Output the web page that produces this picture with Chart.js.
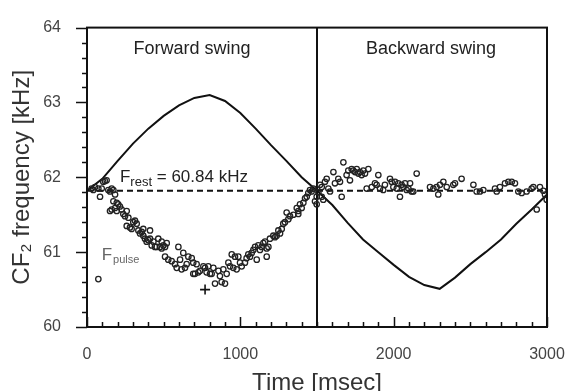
<!DOCTYPE html>
<html>
<head>
<meta charset="utf-8">
<script src="https://cdn.jsdelivr.net/npm/chart.js@4.4.1/dist/chart.umd.min.js"></script>
<style>
  html, body { margin: 0; padding: 0; background: #fff; }
</style>
</head>
<body>
<canvas id="chart" width="568" height="391"></canvas>
<script>
// --- Data ---
const xTickLabels = [0, 1000, 2000, 3000];
const yTickLabels = [60, 61, 62, 63, 64];

// solid CF2 curve (kHz vs msec)
const curveTime = [0, 100, 200, 300, 400, 500, 600, 700, 800, 900, 1000, 1100, 1200, 1300, 1400, 1500,
  1600, 1700, 1800, 1900, 2000, 2100, 2200, 2300, 2400, 2500, 2600, 2700, 2800, 2900, 3000];
const curveFreq = [61.82, 61.98, 62.22, 62.45, 62.65, 62.82, 62.96, 63.06, 63.10, 63.02, 62.86, 62.65, 62.43, 62.22, 62.00, 61.82,
  61.63, 61.39, 61.17, 61.00, 60.83, 60.67, 60.56, 60.51, 60.66, 60.84, 61.00, 61.17, 61.38, 61.57, 61.77];

// F_rest reference line and swing boundary
const restTime = [0, 3000];
const restFreq = [61.82, 61.82];
const boundaryTime = [1500, 1500];
const boundaryFreq = [60, 64];

// F_pulse points, forward swing
const fwdTime = [30, 41, 52, 74, 85, 96, 106, 117, 128, 139,
  150, 161, 172, 183, 172, 194, 204, 215, 183, 161,
  150, 194, 226, 237, 248, 259, 270, 259, 280, 291,
  302, 313, 324, 335, 346, 357, 367, 378, 389, 400,
  411, 411, 367, 422, 433, 443, 454, 465, 476, 487,
  498, 509, 520, 487, 509, 530, 552, 574, 585, 596,
  607, 617, 628, 639, 650, 661, 683, 693, 693, 704,
  715, 726, 737, 759, 770, 780, 791, 802, 813, 824,
  835, 857, 867, 878, 889, 900, 911, 922, 933, 944,
  954, 965, 976, 987, 998, 1009, 1030, 1041, 1052, 1063,
  1074, 1085, 1096, 1107, 1117, 1128, 1139, 1150, 1161, 1172,
  1172, 1183, 1193, 1215, 1226, 1237, 1248, 1259, 1270, 1280,
  1291, 1302, 1313, 1324, 1346, 1368, 1378, 1378, 1389, 1400,
  1411, 1422, 1433, 1443, 1454, 1465, 1476, 1487, 1498, 1498,
  74];
const fwdFreq = [61.85, 61.83, 61.87, 61.85, 61.74, 61.85, 61.94, 61.95, 61.96, 61.83,
  61.81, 61.85, 61.83, 61.77, 61.68, 61.66, 61.64, 61.61, 61.59, 61.57,
  61.55, 61.55, 61.57, 61.51, 61.48, 61.55, 61.46, 61.35, 61.33, 61.31,
  61.40, 61.42, 61.38, 61.29, 61.25, 61.27, 61.22, 61.18, 61.14, 61.16,
  61.18, 61.29, 61.31, 61.09, 61.14, 61.07, 61.07, 61.18, 61.07, 61.14,
  61.09, 61.07, 61.12, 61.05, 60.94, 60.90, 60.88, 60.84, 60.79, 61.07,
  60.90, 60.77, 60.99, 60.79, 60.84, 60.94, 60.92, 60.86, 60.71, 60.71,
  60.84, 60.73, 60.75, 60.81, 60.79, 60.73, 60.81, 60.71, 60.71, 60.79,
  60.58, 60.75, 60.68, 60.60, 60.77, 60.58, 60.71, 60.86, 60.81, 60.97,
  60.79, 60.94, 60.77, 60.94, 60.86, 60.81, 60.86, 60.92, 60.97, 60.94,
  60.99, 61.03, 61.07, 60.90, 61.09, 61.03, 61.07, 61.12, 61.14, 61.05,
  60.94, 61.07, 61.18, 61.22, 61.20, 61.22, 61.29, 61.25, 61.31, 61.38,
  61.40, 61.53, 61.44, 61.48, 61.50, 61.59, 61.55, 61.51, 61.64, 61.59,
  61.66, 61.72, 61.74, 61.79, 61.83, 61.81, 61.85, 61.68, 61.64, 61.74,
  60.64];

// F_pulse points, backward swing
const bwdTime = [1509, 1520, 1531, 1531, 1541, 1552, 1563, 1574, 1585, 1607,
  1617, 1639, 1650, 1661, 1672, 1693, 1704, 1715, 1726, 1737,
  1748, 1759, 1770, 1780, 1791, 1802, 1813, 1824, 1835, 1857,
  1878, 1889, 1900, 1911, 1932, 1943, 1976, 1987, 1998, 2009,
  2020, 2030, 2041, 2052, 2063, 2074, 2085, 2096, 2107, 2117,
  2128, 2150, 2237, 2259, 2280, 2291, 2302, 2324, 2346, 2389,
  2400, 2443, 2520, 2541, 2563, 2585, 2661, 2672, 2693, 2726,
  2748, 2770, 2791, 2813, 2835, 2867, 2900, 2911, 2933, 2954,
  2976, 2987, 2998];
const bwdFreq = [61.80, 61.90, 61.87, 61.74, 61.70, 61.94, 61.98, 61.85, 61.81, 62.07,
  61.92, 61.98, 61.94, 61.74, 62.20, 62.03, 62.09, 61.96, 62.11, 62.09,
  62.07, 62.11, 62.05, 62.07, 62.03, 62.09, 62.05, 61.85, 62.11, 61.87,
  61.92, 61.90, 62.03, 61.85, 61.83, 61.90, 61.98, 61.94, 61.87, 61.94,
  61.85, 61.92, 61.74, 61.90, 61.87, 61.92, 61.83, 61.85, 61.92, 61.81,
  61.81, 62.05, 61.87, 61.85, 61.87, 61.77, 61.90, 61.94, 61.87, 61.90,
  61.92, 61.98, 61.90, 61.81, 61.81, 61.83, 61.85, 61.81, 61.87, 61.92,
  61.94, 61.94, 61.92, 61.81, 61.79, 61.81, 61.85, 61.87, 61.57, 61.87,
  61.82, 61.77, 61.70];

// the '+' marker near the minimum
const markTime = [770];
const markFreq = [60.5];

const FONT = '"Liberation Sans", Arial, Helvetica, sans-serif';

const toPoints = (xs, ys) => xs.map((t, i) => ({ x: t, y: ys[i] }));
const isLabelled = (v, list) => list.some(l => Math.abs(l - v) < 1e-6);

// --- Tick marks (x inward, y outward) and the plot frame ---
const frameTicks = {
    id: 'frameTicks',
    afterDraw(chart) {
        const { ctx, chartArea: a, scales: { x, y } } = chart;
        ctx.save();
        ctx.strokeStyle = '#111';
        ctx.lineWidth = 1.5;
        ctx.beginPath();
        x.ticks.forEach(t => {
            const px = Math.round(x.getPixelForValue(t.value)) + 0.5;
            const len = isLabelled(t.value, xTickLabels) ? 10 : 5;
            ctx.moveTo(px, a.bottom);
            ctx.lineTo(px, a.bottom - len);
        });
        y.ticks.forEach(t => {
            const py = Math.round(y.getPixelForValue(t.value)) + 0.5;
            const len = isLabelled(t.value, yTickLabels) ? 11 : 5;
            ctx.moveTo(a.left, py);
            ctx.lineTo(a.left - len, py);
        });
        ctx.stroke();
        ctx.lineWidth = 2;
        ctx.strokeRect(a.left, a.top, a.right - a.left, a.bottom - a.top);
        ctx.restore();
    }
};

// --- Text labels inside the plot ---
const notes = {
    id: 'notes',
    afterDatasetsDraw(chart) {
        const { ctx, scales: { x, y } } = chart;
        ctx.save();
        ctx.textBaseline = 'alphabetic';
        ctx.fillStyle = '#222';
        ctx.font = '18px ' + FONT;
        ctx.textAlign = 'center';
        ctx.fillText('Forward swing', x.getPixelForValue(685), y.getPixelForValue(63.65));
        ctx.fillText('Backward swing', x.getPixelForValue(2243), y.getPixelForValue(63.65));

        // F_rest = 60.84 kHz
        ctx.font = '17px ' + FONT;
        ctx.textAlign = 'left';
        let px = x.getPixelForValue(215);
        let py = y.getPixelForValue(61.935);
        ctx.fillText('F', px, py);
        px += ctx.measureText('F').width;
        ctx.font = '13px ' + FONT;
        ctx.fillText('rest', px, py + 4);
        px += ctx.measureText('rest').width;
        ctx.font = '17px ' + FONT;
        ctx.fillText(' = 60.84 kHz', px, py);

        // F_pulse
        ctx.fillStyle = '#666';
        px = x.getPixelForValue(96);
        py = y.getPixelForValue(60.90);
        ctx.fillText('F', px, py);
        px += ctx.measureText('F').width + 1;
        ctx.font = '11px ' + FONT;
        ctx.fillText('pulse', px, py + 3);
        ctx.restore();
    }
};

const circleStyle = {
    showLine: false,
    pointStyle: 'circle',
    pointRadius: 2.7,
    pointBorderWidth: 1.3,
    pointBorderColor: '#222',
    pointBackgroundColor: 'rgba(255,255,255,0)',
    order: 1
};

new Chart(document.getElementById('chart').getContext('2d'), {
    type: 'scatter',
    data: {
        datasets: [
            { label: 'F pulse fwd', data: toPoints(fwdTime, fwdFreq), ...circleStyle },
            { label: 'F pulse bwd', data: toPoints(bwdTime, bwdFreq), ...circleStyle },
            {
                label: 'mark', data: toPoints(markTime, markFreq), showLine: false,
                pointStyle: 'cross', pointRadius: 5, pointBorderWidth: 1.6,
                pointBorderColor: '#111', order: 1
            },
            {
                label: 'CF2', data: toPoints(curveTime, curveFreq), showLine: true,
                borderColor: '#111', borderWidth: 2, pointRadius: 0, tension: 0, order: 2
            },
            {
                label: 'F rest', data: toPoints(restTime, restFreq), showLine: true,
                borderColor: '#111', borderWidth: 2, borderDash: [6, 4], pointRadius: 0, order: 3
            },
            {
                label: 'boundary', data: toPoints(boundaryTime, boundaryFreq), showLine: true,
                borderColor: '#111', borderWidth: 2, pointRadius: 0, order: 3
            }
        ]
    },
    options: {
        responsive: false,
        animation: false,
        layout: { padding: { top: 18, right: 21, left: 0, bottom: 0 } },
        plugins: {
            legend: { display: false },
            tooltip: { enabled: false }
        },
        scales: {
            x: {
                type: 'linear',
                min: 0,
                max: 3000,
                grid: { display: false },
                border: { display: false },
                ticks: {
                    stepSize: 100,
                    autoSkip: false,
                    maxRotation: 0,
                    padding: 10,
                    color: '#444',
                    font: { family: FONT, size: 16 },
                    callback: v => isLabelled(v, xTickLabels) ? String(Math.round(v)) : ''
                },
                title: {
                    display: true,
                    text: 'Time [msec]',
                    color: '#333',
                    font: { family: FONT, size: 24, lineHeight: 1 },
                    padding: { top: 0, bottom: -4 }
                },
                afterFit: scale => {
                    scale.height = 64;
                    scale.paddingLeft = 0;
                    scale.paddingRight = 0;
                }
            },
            y: {
                type: 'linear',
                min: 60,
                max: 64,
                grid: { display: false },
                border: { display: false },
                ticks: {
                    stepSize: 0.2,
                    autoSkip: false,
                    padding: 18,
                    color: '#444',
                    font: { family: FONT, size: 16 },
                    callback: v => isLabelled(v, yTickLabels) ? String(Math.round(v)) : ''
                },
                title: {
                    display: true,
                    text: 'CF₂ frequency [kHz]',
                    color: '#333',
                    font: { family: FONT, size: 24, lineHeight: 1 },
                    padding: { top: 10, bottom: 0 }
                },
                afterFit: scale => { scale.width = 87; }
            }
        }
    },
    plugins: [frameTicks, notes]
});
</script>
</body>
</html>
